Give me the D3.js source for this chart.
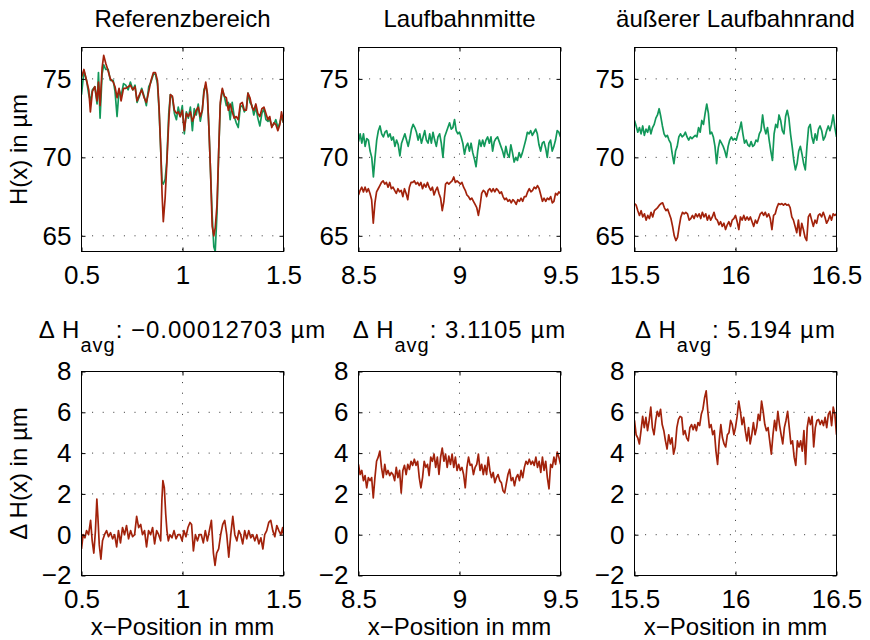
<!DOCTYPE html>
<html>
<head>
<meta charset="utf-8">
<script src="https://cdn.jsdelivr.net/npm/d3@7"></script>
<style>
body { margin: 0; background: #fff; }
svg { font-family: "Liberation Sans", Helvetica, Arial, sans-serif; }
.tick text { font-family: "Liberation Sans", Helvetica, Arial, sans-serif; font-size: 26px; fill: #000; }
.tick line { stroke: #000; }
.grid line { stroke: #333; stroke-width: 1; stroke-dasharray: 1, 9.6; }
.frame { fill: none; stroke: #000; stroke-width: 1; }
.trace { fill: none; stroke-width: 1.7; stroke-linejoin: round; }
.label { font-size: 24px; fill: #000; }
</style>
</head>
<body>
<svg width="870" height="640"></svg>
<script>

// ---- data ----
var titles = ["Referenzbereich", "Laufbahnmitte", "äußerer Laufbahnrand"];
var deltaAvg = ["\u22120.00012703", "3.1105", "5.194"];

var refTicks = [0.5, 1, 1.5],
    midTicks = [8.5, 9, 9.5],
    outerTicks = [15.5, 16, 16.5];
var heightTicks = [65, 70, 75],
    deltaTicks = [-2, 0, 2, 4, 6, 8];
var heightDomain = [64, 77],
    deltaDomain = [-2, 8];

// Referenzbereich, H(x)
var refX = [0.500,0.512,0.525,0.536,0.544,0.554,0.566,0.577,0.584,0.592,0.602,0.610,0.620,0.632,0.643,0.657,0.666,0.676,0.686,0.696,
  0.708,0.719,0.731,0.742,0.754,0.765,0.775,0.787,0.798,0.810,0.821,0.833,0.844,0.856,0.866,0.876,0.884,0.892,0.899,0.905,
  0.914,0.922,0.932,0.940,0.950,0.960,0.970,0.979,0.989,0.999,1.009,1.019,1.029,1.039,1.049,1.058,1.068,1.078,1.088,1.098,
  1.106,1.115,1.123,1.131,1.139,1.147,1.155,1.162,1.171,1.179,1.187,1.197,1.207,1.217,1.227,1.236,1.246,1.256,1.266,1.276,
  1.286,1.296,1.306,1.316,1.324,1.334,1.344,1.353,1.363,1.373,1.383,1.393,1.403,1.413,1.423,1.432,1.442,1.452,1.462,1.472,
  1.482,1.490,1.500];
var refGreen = [74.0,75.5,74.9,74.0,73.6,74.3,74.5,73.4,75.4,72.5,75.3,75.9,75.6,75.6,74.9,74.9,74.2,72.6,74.3,73.9,
  74.7,74.6,74.3,74.8,74.3,74.6,73.5,73.9,74.4,73.9,73.3,74.5,74.8,75.3,75.3,74.7,73.0,70.5,68.4,68.3,
  68.6,69.7,72.8,74.0,73.8,72.8,72.4,73.2,72.6,73.3,71.5,72.9,72.5,73.2,71.7,73.1,72.7,73.4,72.3,73.0,
  74.3,74.6,74.0,71.8,69.0,66.3,64.3,64.0,66.5,70.3,73.3,74.3,73.9,73.3,73.5,72.4,73.5,72.6,72.2,71.9,
  73.2,73.3,72.9,73.1,74.1,73.5,73.3,72.7,73.2,72.5,72.0,72.8,73.1,72.4,72.3,72.4,72.0,72.1,72.4,71.9,
  72.2,72.6,72.2];
var refRed = [75.1,75.6,74.9,74.3,72.9,74.2,74.5,73.6,74.8,73.3,75.7,76.5,76.0,75.5,75.0,74.8,74.5,73.8,74.4,73.6,
  74.4,74.4,74.5,74.6,74.3,74.5,73.6,74.0,74.3,73.8,73.5,74.2,74.9,75.4,75.4,74.9,73.2,70.6,67.6,65.9,
  67.4,69.5,72.3,74.0,73.9,73.0,72.8,72.9,72.6,73.0,71.7,72.8,72.6,72.9,72.3,72.6,73.0,73.2,72.6,73.0,
  74.1,74.8,74.1,71.8,69.0,65.6,65.0,65.5,67.0,70.3,73.5,74.4,73.9,73.8,73.0,73.4,72.9,72.5,72.6,72.4,
  73.4,73.5,73.0,73.0,74.1,73.8,73.2,73.0,73.4,72.8,72.6,73.1,73.2,72.8,72.4,72.6,71.9,72.2,72.1,71.7,
  72.1,72.9,72.2];

// Referenzbereich, delta H(x)
var refDeltaX = [0.500,0.508,0.517,0.525,0.535,0.545,0.553,0.561,0.569,0.576,0.581,0.588,0.596,0.604,0.614,0.624,0.634,0.644,0.654,0.664,
  0.674,0.683,0.693,0.703,0.713,0.723,0.733,0.743,0.753,0.763,0.773,0.783,0.793,0.802,0.812,0.822,0.832,0.842,0.852,0.862,
  0.872,0.882,0.892,0.898,0.903,0.910,0.917,0.923,0.930,0.938,0.948,0.958,0.968,0.978,0.988,0.998,1.007,1.017,1.027,1.037,
  1.045,1.054,1.064,1.074,1.083,1.093,1.103,1.113,1.123,1.133,1.143,1.153,1.161,1.169,1.179,1.189,1.199,1.209,1.219,1.229,
  1.239,1.249,1.259,1.269,1.279,1.288,1.298,1.308,1.318,1.328,1.338,1.348,1.358,1.368,1.378,1.388,1.398,1.407,1.417,1.427,
  1.437,1.447,1.457,1.467,1.477,1.487,1.496,1.500];
var refDelta = [-0.7,0.0,-0.15,0.2,0,0.7,-0.3,-0.9,0.2,1.75,0.9,-0.5,-1.2,-0.3,0,0.2,-0.1,0.1,-0.2,0,
  -0.6,0.2,-0.4,0.35,0,0.45,-0.2,0.2,-0.1,0,0.9,0.35,0.5,0,0.2,-0.6,0.2,0,0.35,-0.45,
  0.2,0,-0.3,1.7,2.65,2.3,1.0,0.2,-0.3,0,-0.15,0.2,-0.2,0,0,-0.3,0.2,-0.1,0.35,0.6,
  0.5,-0.8,0,-0.3,0,0,-0.4,0.2,-0.3,0.2,0.7,-0.9,-1.5,-0.9,-0.7,0,0.5,0.7,0,-1.1,
  0,0.9,0,-0.3,0.2,0,-0.45,0.2,-0.2,0.2,-0.15,0,-0.3,0,-0.45,-0.15,-0.7,0,0.2,0.6,
  0.7,0.2,-0.1,0.45,0.2,0,0.35,0];

// Laufbahnmitte (evenly sampled from 8.5 to 9.5 mm)
var midGreen = [71.0,71.5,70.9,71.5,70.7,71.2,71.1,70.4,70.0,68.75,70.0,71.1,71.7,72.0,71.5,71.3,71.6,71.7,71.3,71.5,
  71.1,71.3,70.7,71.1,70.8,70.1,70.9,71.2,71.5,71.1,70.7,71.2,71.8,72.1,71.9,71.6,71.1,71.5,70.9,71.3,
  71.7,71.1,70.9,71.5,70.9,71.6,71.1,70.7,71.3,71.5,70.9,70.0,71.3,71.6,71.9,72.2,71.8,71.9,72.4,71.7,
  71.5,71.6,71.3,70.9,70.2,70.7,70.9,70.4,70.9,70.3,69.9,69.4,70.4,71.1,70.7,71.1,70.7,71.1,71.3,70.9,
  71.3,70.4,71.0,71.2,71.3,71.0,70.7,70.4,70.0,70.7,70.2,70.0,70.8,70.3,69.7,70.0,69.8,70.3,70.0,70.3,
  70.7,71.1,71.6,71.5,71.7,71.4,71.6,71.8,71.5,70.8,70.4,70.9,71.0,70.6,70.0,70.9,71.1,70.4,70.7,71.1,
  71.7,71.6,71.3];
var midRed = [67.6,67.9,68.1,67.8,68.1,67.8,68.0,67.7,67.3,65.8,67.1,67.8,68.0,68.2,68.4,68.5,68.3,68.4,68.1,68.4,
  68.0,68.1,67.9,67.7,68.0,67.8,67.9,67.5,68.0,67.7,67.3,68.1,68.4,68.4,68.5,68.3,68.4,68.2,68.4,68.0,
  68.3,68.1,68.4,68.1,67.9,68.1,67.6,67.9,68.1,67.7,67.4,66.6,67.2,68.3,68.4,68.3,68.4,68.5,68.75,68.4,
  68.5,68.4,68.3,68.4,68.1,67.9,67.6,67.5,67.3,67.4,67.2,67.0,66.8,66.3,66.9,67.7,67.9,67.8,67.5,67.9,
  68.0,67.8,68.0,67.8,68.0,67.9,67.7,67.8,67.5,67.3,67.4,67.2,67.3,67.1,67.3,67.2,67.0,67.3,67.2,67.4,
  67.2,67.5,67.5,67.8,68.0,67.8,67.9,68.1,68.0,68.2,68.0,67.6,67.2,67.4,67.2,67.4,67.3,67.5,67.1,67.2,
  67.7,67.6,67.8,67.7];
var midDelta = [3.45,2.95,3.15,2.65,2.9,2.3,2.8,2.65,2.8,1.8,2.8,3.6,3.8,4.1,3.3,2.8,3.45,2.95,3.15,2.9,
  3.05,2.95,2.65,3.3,2.8,3.15,2.05,3.15,3.4,2.95,3.45,3.2,3.6,3.4,3.7,3.4,3.6,2.8,2.3,2.8,
  3.6,3.3,3.45,2.9,3.8,3.6,3.95,3.3,3.8,2.95,3.8,4.25,3.6,3.95,3.3,3.85,3.45,3.95,3.3,3.8,
  3.15,3.45,3.15,3.3,2.95,2.3,3.3,3.8,3.4,3.45,2.95,3.3,3.45,3.95,3.15,3.45,2.95,3.4,2.95,3.8,
  3.15,2.8,3.05,2.55,2.8,2.95,2.65,2.55,2.15,2.05,2.5,2.95,3.2,2.65,2.8,2.4,2.8,2.95,2.65,3.15,
  2.8,3.3,3.6,3.45,3.7,3.45,3.6,3.4,3.8,3.3,3.6,3.05,3.8,3.15,3.6,2.8,2.25,3.45,3.3,3.8,
  3.45,4.05,3.8,3.45];

// äußerer Laufbahnrand (evenly sampled from 15.5 to 16.5 mm)
var outerGreen = [72.35,72.0,71.6,71.9,71.5,72.0,71.4,71.8,71.6,72.0,71.5,71.9,72.1,72.5,72.7,73.1,72.6,72.0,71.5,71.3,
  71.4,71.1,70.9,70.2,69.6,70.4,70.7,71.3,71.5,71.3,71.4,71.6,71.3,71.1,71.3,71.2,71.3,71.4,71.3,71.9,
  71.6,72.35,72.1,72.8,73.4,72.8,71.5,71.6,71.3,70.7,69.6,70.6,71.1,70.9,70.7,70.4,70.0,70.7,71.1,71.3,
  71.1,71.2,71.1,71.5,71.8,72.25,71.5,70.9,71.1,70.8,70.7,71.0,70.7,70.8,71.1,71.0,71.5,71.7,72.7,71.9,
  71.5,71.9,71.1,70.4,69.8,71.5,72.1,71.9,72.7,72.35,71.7,71.5,72.6,73.0,72.5,71.5,70.7,69.8,69.2,69.6,
  70.4,70.7,70.2,69.6,69.2,70.7,71.9,72.1,71.3,70.9,71.5,71.1,71.8,72.0,71.7,71.1,71.3,71.7,72.0,71.7,
  72.1,72.7,71.9,71.3];
var outerRed = [67.05,66.95,66.6,66.3,66.6,66.2,66.4,66.0,66.3,66.1,66.5,66.2,66.6,66.7,66.8,66.95,67.05,67.1,66.8,66.6,
  66.7,66.4,66.1,65.6,65.0,64.7,64.9,65.6,66.2,66.5,66.4,66.5,66.4,66.0,66.1,66.3,66.1,66.4,66.2,66.4,
  66.1,66.5,66.2,66.4,66.0,66.3,66.0,66.2,66.5,66.1,66.0,65.7,65.9,65.6,65.8,65.4,65.7,65.9,65.6,66.0,
  66.1,66.3,65.9,65.4,66.2,66.0,66.3,66.0,66.2,66.0,66.2,65.9,65.6,66.0,65.8,66.1,66.4,66.5,66.3,66.5,
  66.2,66.4,66.1,65.4,66.3,66.4,66.8,67.05,67.0,67.05,66.95,67.05,66.95,67.0,66.8,66.2,66.0,65.6,65.2,66.0,
  65.0,65.8,65.4,64.9,64.7,66.2,66.4,66.0,65.6,66.0,65.8,66.3,66.4,66.2,66.5,66.2,65.8,66.0,66.3,66.0,
  66.4,66.3,66.4];
var outerDelta = [5.6,4.9,4.75,4.45,5.1,5.8,5.25,5.75,5.1,5.6,6.25,5.25,4.9,5.6,6.05,5.8,6.15,5.4,5.1,4.6,
  4.2,4.9,4.45,4.75,3.95,4.3,5.25,5.65,5.8,5.75,4.9,5.1,4.75,4.6,5.25,5.4,5.15,5.4,5.1,5.5,
  5.35,5.9,6.15,6.7,7.05,6.05,5.25,5.4,4.9,5.1,4.1,3.45,4.6,5.4,4.75,4.45,4.3,4.9,5.0,5.6,
  5.4,4.9,5.25,5.8,6.55,6.05,5.4,5.75,5.1,4.6,5.25,4.45,4.9,5.5,4.9,5.25,5.9,5.6,6.55,6.05,
  5.4,5.1,5.25,4.6,3.95,4.9,5.6,5.1,6.05,5.4,4.9,4.45,5.25,5.6,6.05,5.25,4.45,4.6,3.8,3.4,
  4.6,4.3,4.6,4.1,5.1,3.45,5.25,5.75,5.4,5.8,4.3,5.25,5.6,5.65,5.4,5.6,5.35,5.75,5.25,5.9,
  6.05,5.35,6.25,5.9,4.9];

// ---- layout ----
var colLeft = [81, 358, 634],
    rowTop = [47, 371],
    plotW = 202,
    plotH = 204;

var green = "#12985a",
    red = "#a2220b";

var svg = d3.select("svg");

// evenly spaced sample positions across the panel's x range
function samples(ticks, n) {
  var x0 = ticks[0], x1 = ticks[ticks.length - 1];
  return d3.range(n).map(function(i) { return x0 + (x1 - x0) * i / (n - 1); });
}

var panels = [
  { col: 0, row: 0, ticks: refTicks, series: [[refX, refGreen, green], [refX, refRed, red]] },
  { col: 1, row: 0, ticks: midTicks, series: [[samples(midTicks, midGreen.length), midGreen, green], [samples(midTicks, midRed.length), midRed, red]] },
  { col: 2, row: 0, ticks: outerTicks, series: [[samples(outerTicks, outerGreen.length), outerGreen, green], [samples(outerTicks, outerRed.length), outerRed, red]] },
  { col: 0, row: 1, ticks: refTicks, series: [[refDeltaX, refDelta, red]] },
  { col: 1, row: 1, ticks: midTicks, series: [[samples(midTicks, midDelta.length), midDelta, red]] },
  { col: 2, row: 1, ticks: outerTicks, series: [[samples(outerTicks, outerDelta.length), outerDelta, red]] }
];

var fmt = d3.format("~g");

panels.forEach(function(p, k) {
  var g = svg.append("g")
      .attr("transform", "translate(" + (colLeft[p.col] + 0.5) + "," + (rowTop[p.row] + 0.5) + ")");

  var x = d3.scaleLinear().domain([p.ticks[0], p.ticks[2]]).range([0, plotW]);
  var y = d3.scaleLinear().domain(p.row ? deltaDomain : heightDomain).range([plotH, 0]);
  var yTicks = p.row ? deltaTicks : heightTicks;

  g.append("clipPath").attr("id", "clip" + k)
    .append("rect").attr("width", plotW).attr("height", plotH);

  // dotted grid
  var grid = g.append("g").attr("class", "grid");
  grid.selectAll("line.gx").data(p.ticks.slice(1, -1))
    .enter().append("line").attr("class", "gx")
      .attr("x1", x).attr("x2", x).attr("y1", 0).attr("y2", plotH);
  grid.selectAll("line.gy").data(yTicks.filter(function(v) { return y(v) > 1 && y(v) < plotH - 1; }))
    .enter().append("line").attr("class", "gy")
      .attr("x1", 0).attr("x2", plotW).attr("y1", y).attr("y2", y);

  // traces
  var line = d3.line().x(function(d) { return x(d[0]); }).y(function(d) { return y(d[1]); });
  p.series.forEach(function(s) {
    g.append("path")
      .attr("class", "trace")
      .attr("clip-path", "url(#clip" + k + ")")
      .attr("stroke", s[2])
      .attr("d", line(d3.zip(s[0], s[1])));
  });

  // axes, ticks pointing inward on all four sides
  g.append("g").attr("transform", "translate(0," + plotH + ")")
    .call(d3.axisBottom(x).tickValues(p.ticks).tickFormat(fmt).tickSize(-4).tickPadding(14));
  g.append("g")
    .call(d3.axisTop(x).tickValues(p.ticks).tickFormat("").tickSize(-4));
  g.append("g")
    .call(d3.axisLeft(y).tickValues(yTicks).tickFormat(fmt).tickSize(-4).tickPadding(10));
  g.append("g").attr("transform", "translate(" + plotW + ",0)")
    .call(d3.axisRight(y).tickValues(yTicks).tickFormat("").tickSize(-4));
  g.selectAll(".domain").remove();

  g.append("rect").attr("class", "frame").attr("width", plotW).attr("height", plotH);

  var cx = plotW / 2;
  if (p.row === 0) {
    g.append("text").attr("class", "label")
      .attr("x", cx).attr("y", 26 - rowTop[0])
      .attr("text-anchor", "middle")
      .text(titles[p.col]);
  } else {
    var t = g.append("text").attr("class", "label")
      .attr("x", cx).attr("y", 337 - rowTop[1])
      .attr("text-anchor", "middle")
      .style("letter-spacing", "1px");
    t.append("tspan").text("\u0394 H");
    t.append("tspan").attr("dy", 14).style("font-size", "20px").text("avg");
    t.append("tspan").attr("dy", -14).text(": " + deltaAvg[p.col] + " \u00b5m");

    g.append("text").attr("class", "label")
      .attr("x", cx).attr("y", 634 - rowTop[1])
      .attr("text-anchor", "middle")
      .text("x\u2212Position in mm");
  }

  if (p.col === 0) {
    g.append("text").attr("class", "label")
      .attr("transform", "translate(" + (26 - colLeft[0]) + "," + (plotH / 2) + ") rotate(-90)")
      .attr("text-anchor", "middle")
      .text(p.row ? "\u0394 H(x) in \u00b5m" : "H(x) in \u00b5m");
  }
});

</script>
</body>
</html>
